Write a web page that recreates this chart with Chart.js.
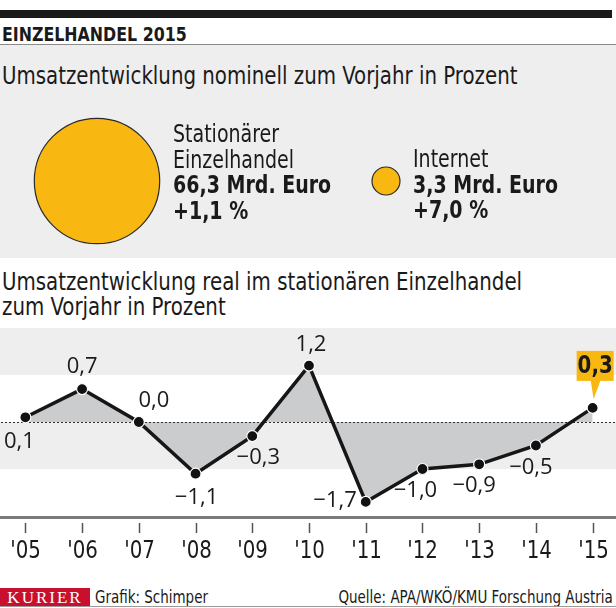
<!DOCTYPE html>
<html>
<head>
<meta charset="utf-8">
<script src="https://cdn.jsdelivr.net/npm/chart.js@4.4.1/dist/chart.umd.min.js"></script>
<style>
  body { margin: 0; width: 616px; height: 608px; background: #fff; position: relative; overflow: hidden;
         font-family: "DejaVu Sans Condensed", "DejaVu Sans", sans-serif; color: #1a1a1a; }
  .abs { position: absolute; white-space: nowrap; }
  .nar { transform: scaleX(0.88); transform-origin: 0 0; }
  #topbar { left: 0; top: 10px; width: 612px; height: 8px; background: #1a1a1a; }
  #kicker { left: 2px; top: 22px; font-size: 20px; font-weight: bold; }
  #rule { left: 0; top: 44px; width: 616px; height: 1px; background: #8a8a8a; }
  #panel { left: 0; top: 45px; width: 616px; height: 213px; background: #efeeef; }
  .h2 { font-size: 25px; line-height: 25px; }
  .blk { font-size: 24px; line-height: 25.5px; }
  .blk b { font-weight: bold; }
  #footer-logo { left: 0; top: 588px; width: 90px; height: 19px; background: #c8102e; color: #fff;
                 font-family: "Liberation Serif", serif; font-size: 17px; line-height: 19px; letter-spacing: 2px; text-align: center; }
  .foot { font-size: 17px; line-height: 19px; top: 588px; }
  #botline { left: 0; top: 606px; width: 616px; height: 1px; background: #9a9a9a; }
</style>
</head>
<body>
<div class="abs" id="topbar"></div>
<div class="abs nar" id="kicker">EINZELHANDEL 2015</div>
<div class="abs" id="rule"></div>
<div class="abs" id="panel"></div>
<div class="abs h2 nar" style="left:2px; top:63px;">Umsatzentwicklung nominell zum Vorjahr in Prozent</div>

<canvas id="bubbles" class="abs" width="616" height="150" style="left:0; top:106px;"></canvas>

<div class="abs blk nar" style="left:173px; top:122px;">Stationärer<br>Einzelhandel<br><b>66,3 Mrd. Euro</b><br><b>+1,1 %</b></div>
<div class="abs blk nar" style="left:413px; top:147px;">Internet<br><b>3,3 Mrd. Euro</b><br><b>+7,0 %</b></div>

<div class="abs h2 nar" style="left:2px; top:269px;">Umsatzentwicklung real im stationären Einzelhandel<br>zum Vorjahr in Prozent</div>

<canvas id="chart" class="abs" width="624" height="262" style="left:-3px; top:318px;"></canvas>

<div class="abs" id="footer-logo">KURIER</div>
<div class="abs foot nar" style="left:95px;">Grafik: Schimper</div>
<div class="abs foot" style="right:3px; transform: scaleX(0.88); transform-origin: 100% 0;">Quelle: APA/WKÖ/KMU Forschung Austria</div>
<div class="abs" id="botline"></div>

<script>
// ---- data ----
const years = ["'05", "'06", "'07", "'08", "'09", "'10", "'11", "'12", "'13", "'14", "'15"];
const realChange = [0.1, 0.7, 0.0, -1.1, -0.3, 1.2, -1.7, -1.0, -0.9, -0.5, 0.3];

const channels = ["Stationärer Einzelhandel", "Internet"];
const salesBn = [66.3, 3.3];

const YELLOW = '#f8b711';
const TXT = '#1a1a1a';
const NARROW = '"DejaVu Sans Condensed", "DejaVu Sans", sans-serif';

function fmt(v) {
    // german decimal comma, proper minus sign
    var s = Math.abs(v).toFixed(1).replace('.', ',');
    return (v < 0 ? '\u2212' : '') + s;
}

// draw text squeezed horizontally, like the condensed house font
function narrowText(ctx, txt, x, y, sx) {
    ctx.save();
    ctx.translate(x, y);
    ctx.scale(sx, 1);
    ctx.fillText(txt, 0, 0);
    ctx.restore();
}

// ---- bubbles (area proportional to sales) ----
new Chart(document.getElementById('bubbles'), {
    type: 'bubble',
    data: {
        labels: channels,
        datasets: [{
            data: salesBn.map(function (v, i) { return { x: channels[i], y: 0, r: 7.7 * Math.sqrt(v) }; }),
            backgroundColor: YELLOW,
            borderColor: '#2a2a2a',
            borderWidth: 1.2,
            clip: false
        }]
    },
    options: {
        responsive: false,
        animation: false,
        events: [],
        layout: { autoPadding: false, padding: { left: 97, right: 230, top: 0, bottom: 0 } },
        plugins: { legend: { display: false }, tooltip: { enabled: false } },
        scales: {
            x: { type: 'category', display: false, offset: false },
            y: { display: false, min: -1, max: 1 }
        }
    }
});

// ---- line chart ----
// label offsets relative to each point (dx, dy); 'r' = right aligned, left of the point
const labelPos = [[-6, 24], [0, -22], [15, -21], [1, 24], [6, 22], [2, -21], ['r', -1], [-7, 22], [-5, 21], [-5, 22], null];

const decor = {
    id: 'decor',
    beforeDraw(chart) {
        const ctx = chart.ctx, y = chart.scales.y, w = chart.width;
        ctx.save();
        ctx.fillStyle = '#efeeef';
        ctx.fillRect(0, y.getPixelForValue(2), w, y.getPixelForValue(1) - y.getPixelForValue(2));
        ctx.fillRect(0, y.getPixelForValue(0), w, y.getPixelForValue(-1) - y.getPixelForValue(0));
        ctx.restore();
    },
    beforeDatasetDraw(chart) {
        const ctx = chart.ctx, y = chart.scales.y, w = chart.width;
        const y0 = Math.round(y.getPixelForValue(0)) + 0.5;
        ctx.save();
        ctx.strokeStyle = '#333';
        ctx.lineWidth = 1;
        ctx.setLineDash([2, 2]);
        ctx.beginPath();
        ctx.moveTo(0, y0);
        ctx.lineTo(w, y0);
        ctx.stroke();
        ctx.restore();
    },
    afterDatasetsDraw(chart) {
        const ctx = chart.ctx, x = chart.scales.x, y = chart.scales.y, w = chart.width;
        const meta = chart.getDatasetMeta(0);
        ctx.save();
        // axis line, ticks and year labels
        const base = y.getPixelForValue(-2) + 1;
        ctx.fillStyle = '#7b7b7b';
        ctx.fillRect(0, base - 1, w, 3);
        ctx.strokeStyle = '#555';
        ctx.lineWidth = 1.5;
        ctx.font = '25px ' + NARROW;
        ctx.textAlign = 'center';
        ctx.textBaseline = 'middle';
        years.forEach(function (lab, i) {
            const px = Math.round(x.getPixelForValue(i)) + 0.5;
            ctx.beginPath();
            ctx.moveTo(px, base + 6);
            ctx.lineTo(px, base + 16);
            ctx.stroke();
            ctx.fillStyle = TXT;
            narrowText(ctx, lab, px, base + 34, 0.88);
        });
        // value labels
        ctx.fillStyle = TXT;
        ctx.font = '22px "Open Sans", "Noto Sans", sans-serif';
        realChange.forEach(function (v, i) {
            const p = meta.data[i], off = labelPos[i];
            if (!off) return;
            const right = off[0] === 'r';
            ctx.textAlign = right ? 'right' : 'center';
            ctx.fillText(fmt(v), p.x + (right ? -9 : off[0]), p.y + off[1]);
        });
        // callout for the latest year
        const last = realChange.length - 1, lp = meta.data[last];
        const bx = lp.x - 16, bw = 37, by = lp.y - 57, bh = 30;
        ctx.fillStyle = YELLOW;
        ctx.fillRect(bx, by, bw, bh);
        ctx.beginPath();
        ctx.moveTo(lp.x - 2, by + bh - 1);
        ctx.lineTo(lp.x + 8, by + bh - 1);
        ctx.lineTo(lp.x + 1, lp.y - 9);
        ctx.closePath();
        ctx.fill();
        ctx.fillStyle = TXT;
        ctx.font = 'bold 25px ' + NARROW;
        ctx.textAlign = 'center';
        narrowText(ctx, fmt(realChange[last]), bx + bw / 2, by + bh / 2 + 1, 0.88);
        ctx.restore();
    }
};

new Chart(document.getElementById('chart'), {
    type: 'line',
    data: {
        labels: years,
        datasets: [{
            data: realChange,
            borderColor: '#161616',
            borderWidth: 3.5,
            tension: 0,
            fill: { value: 0 },
            backgroundColor: '#cbcccd',
            pointRadius: 5.5,
            pointBackgroundColor: '#111',
            pointBorderColor: '#fff',
            pointBorderWidth: 1.2,
            clip: false
        }]
    },
    options: {
        responsive: false,
        animation: false,
        events: [],
        layout: { autoPadding: false, padding: { top: 10, bottom: 0, left: 0, right: 0 } },
        plugins: { legend: { display: false }, tooltip: { enabled: false } },
        scales: {
            x: {
                offset: true,
                grid: { display: false, drawTicks: false },
                border: { display: false },
                ticks: { display: false },
                afterFit: function (scale) { scale.height = 64; }
            },
            y: { display: false, min: -2, max: 2 }
        }
    },
    plugins: [decor]
});
</script>
</body>
</html>
